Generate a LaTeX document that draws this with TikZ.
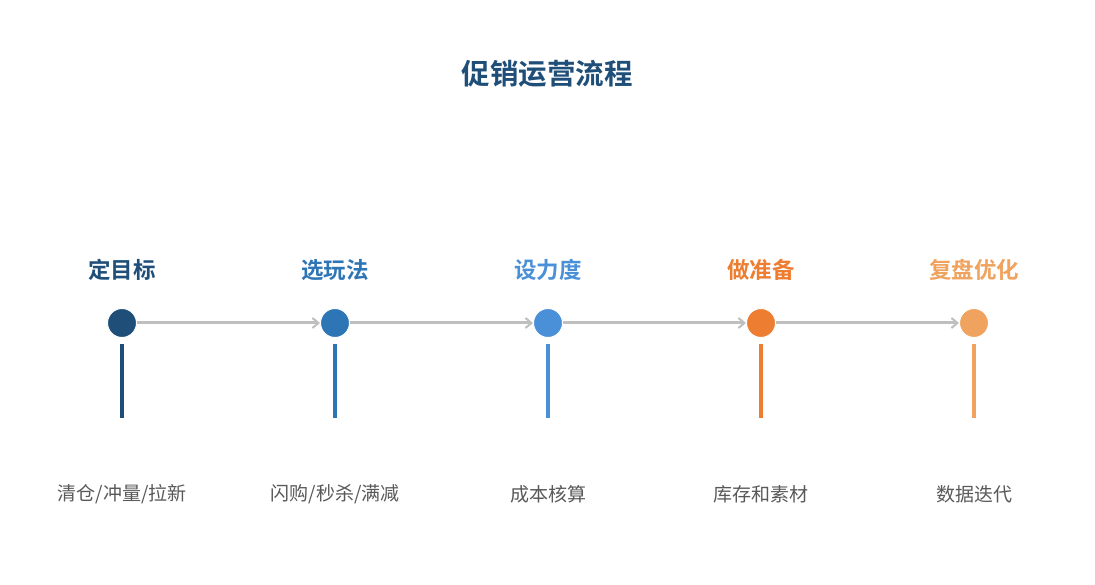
\documentclass[tikz,border=0pt]{standalone}
\usepackage{fontspec}
\newfontfamily\cjk{Noto Sans CJK SC}
\newfontfamily\cjkb{Noto Sans CJK SC Bold}
\usetikzlibrary{arrows.meta}
\definecolor{cA}{HTML}{1F4E79}
\definecolor{cB}{HTML}{2E75B6}
\definecolor{cC}{HTML}{4A90D9}
\definecolor{cD}{HTML}{ED7D31}
\definecolor{cE}{HTML}{F0A35E}
\definecolor{lineg}{HTML}{BFBFBF}
\definecolor{txtg}{HTML}{595959}
\tikzset{
  dot/.style={circle,fill=#1,draw=white,line width=1pt,minimum size=29pt,inner sep=0pt},
  steplabel/.style={font=\cjkb\fontsize{22.5}{26}\selectfont,text=#1},
  desc/.style={font=\cjk\fontsize{19}{23}\selectfont,text=txtg},
  conn/.style={draw=lineg,line width=3pt,-{Straight Barb[length=6pt,width=10pt,line width=2pt]}},
  stem/.style={draw=#1,line width=4pt}
}
\begin{document}
\begin{tikzpicture}[x=1pt,y=-1pt]
\useasboundingbox[fill=white] (0,0) rectangle (1095,585);
\node[font=\cjkb\fontsize{28.5}{32}\selectfont,text=cA] (title) at (547,74) {促销运营流程};
\foreach \i/\x/\c/\lab/\d in {1/122/cA/定目标/{清仓/冲量/拉新},2/335/cB/选玩法/{闪购/秒杀/满减},3/548/cC/设力度/成本核算,4/761/cD/做准备/库存和素材,5/974/cE/复盘优化/数据迭代}{
  \node[steplabel=\c] (l\i) at (\x,270) {\lab};
  \coordinate (st\i) at (\x,344);
  \coordinate (sb\i) at (\x,418);
  \draw[stem=\c] (st\i) -- (sb\i);
  \node[desc] (d\i) at (\x,494) {\d};
}
\node[dot=cA] (n1) at (122,323) {};
\node[dot=cB] (n2) at (335,323) {};
\node[dot=cC] (n3) at (548,323) {};
\node[dot=cD] (n4) at (761,323) {};
\node[dot=cE] (n5) at (974,323) {};
\foreach \a/\b in {1/2,2/3,3/4,4/5}{
  \draw[conn] (n\a) -- (n\b);
}
\foreach \i/\c in {1/cA,2/cB,3/cC,4/cD,5/cE}{
  \node[dot=\c] at (n\i) {};
}
\end{tikzpicture}
\end{document}
